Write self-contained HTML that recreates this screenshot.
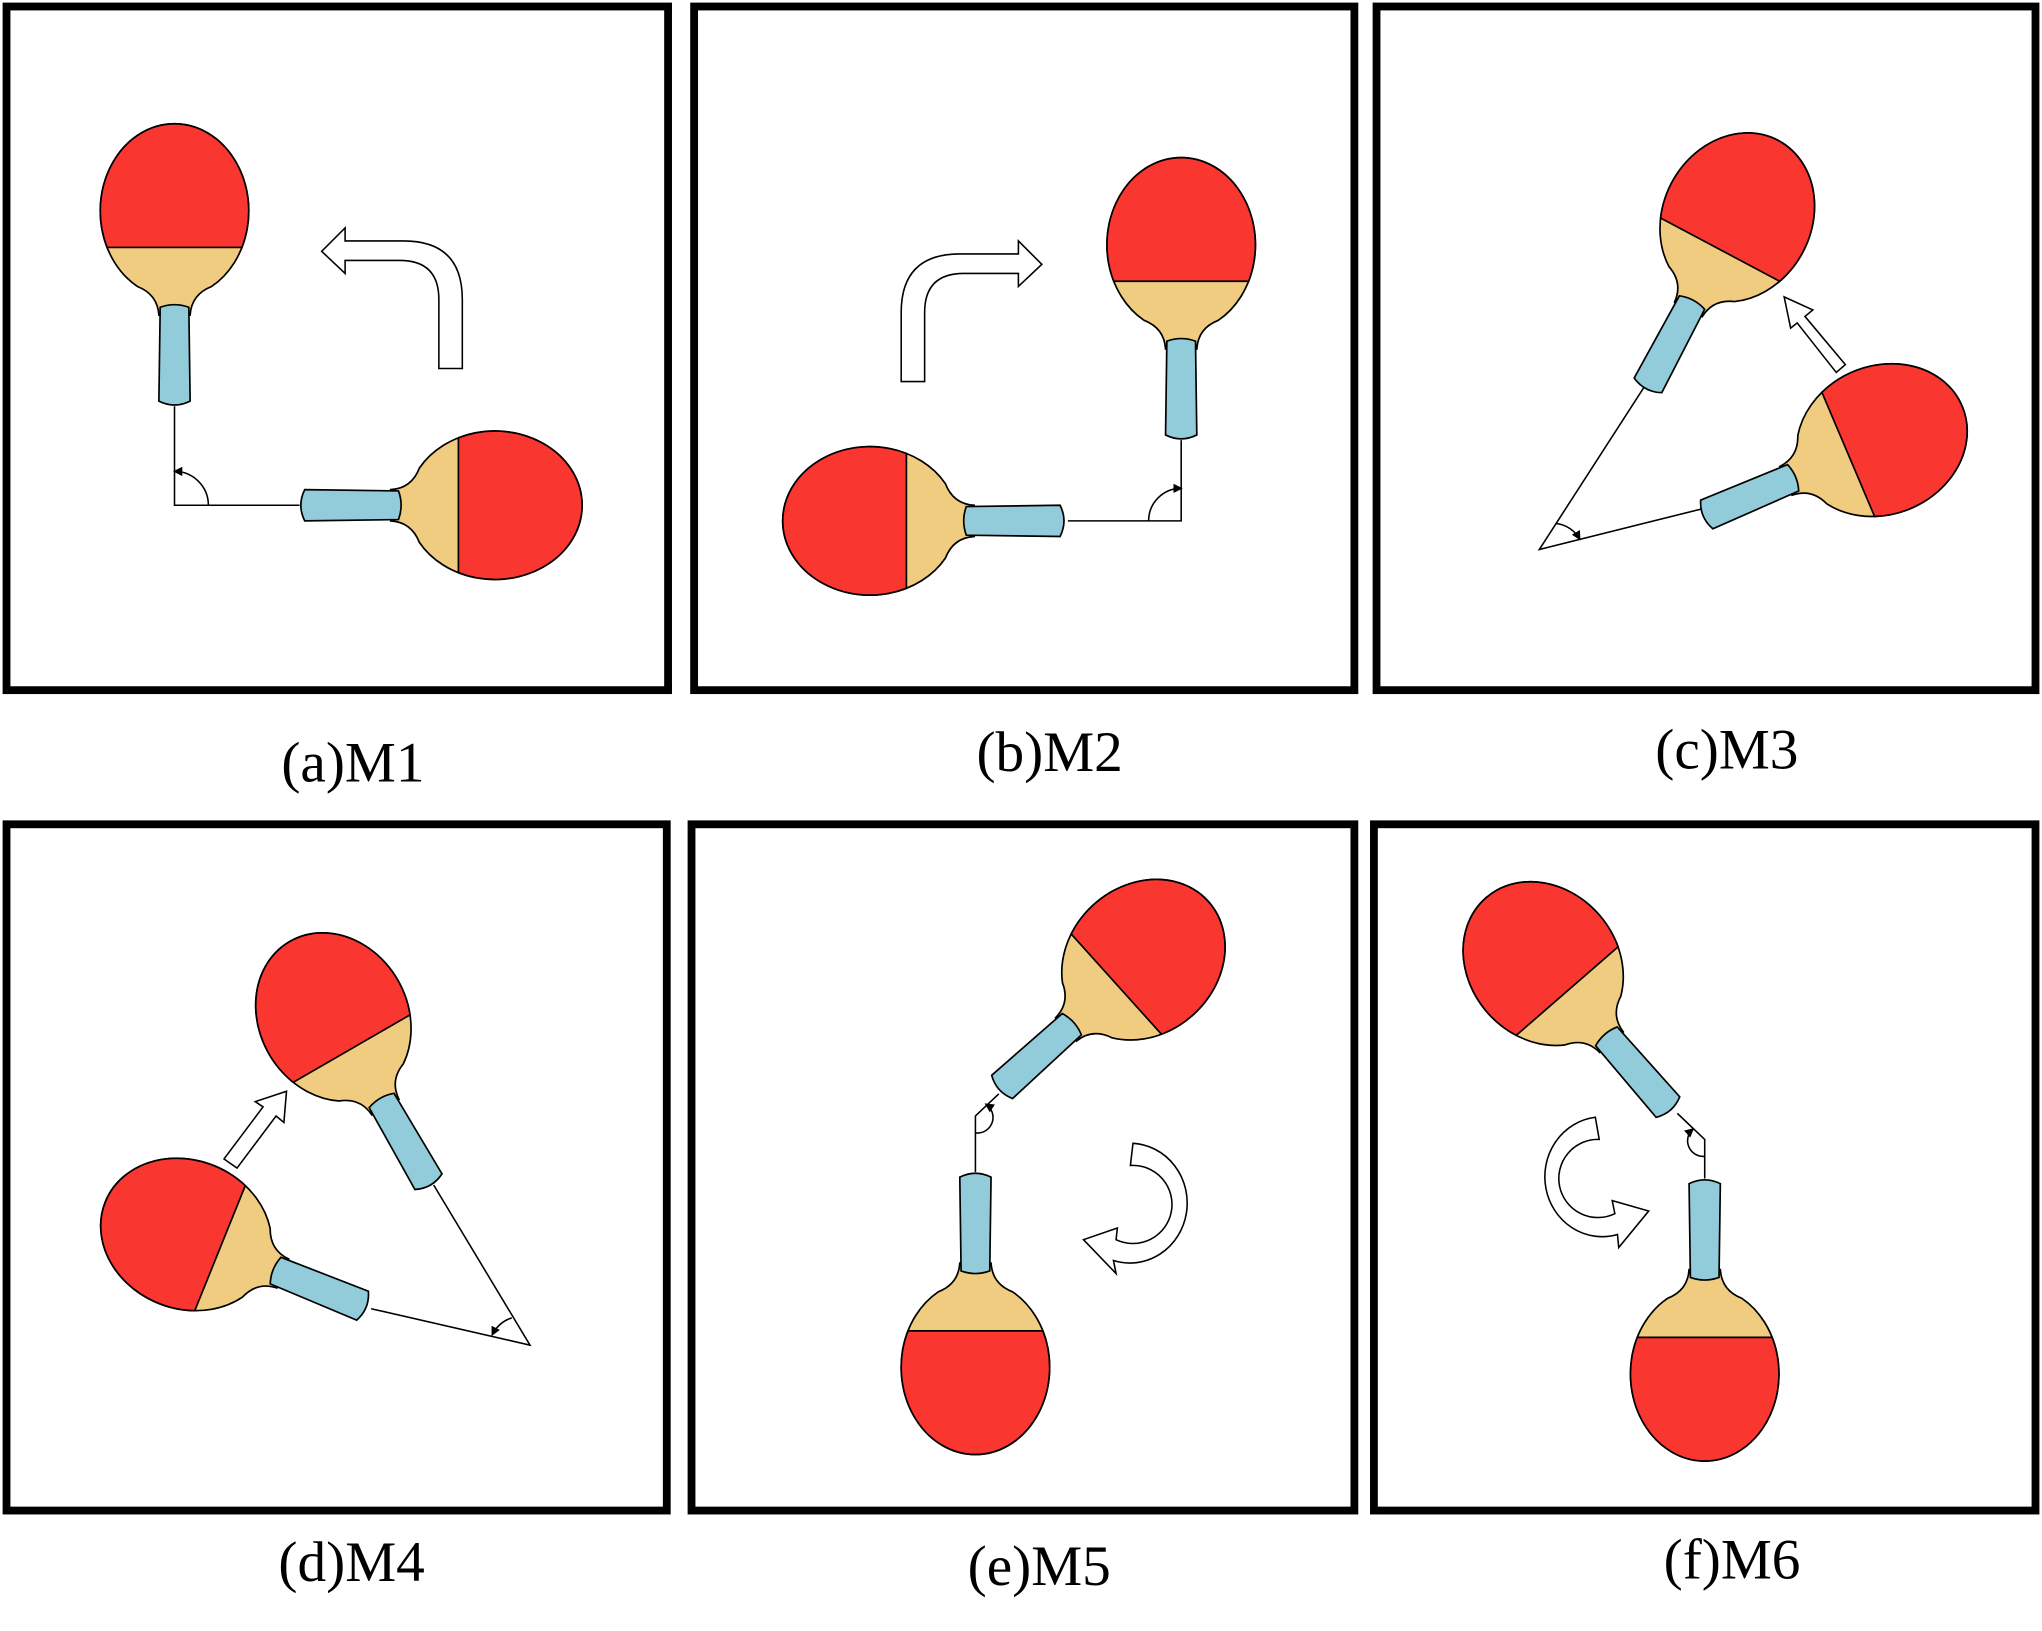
<!DOCTYPE html>
<html><head><meta charset="utf-8"><style>
html,body{margin:0;padding:0;background:#fff;}
svg{display:block;}
text{font-family:"Liberation Serif",serif;font-size:44px;fill:#000;}
</style></head><body>
<svg width="2042" height="1631" viewBox="0 0 1568 1252.5" preserveAspectRatio="none" xmlns="http://www.w3.org/2000/svg">
<defs>
<g id="paddle">
  <path d="M -28.5 58 A 57 67 0 1 1 28.5 58 Q 13 64 12 80 L -12 80 Q -13 64 -28.5 58 Z" fill="#F0CC80" stroke="#000" stroke-width="1.3"/>
  <path d="M -51.8 28 A 57 67 0 1 1 51.8 28 Z" fill="#F93730" stroke="#000" stroke-width="1.3"/>
  <path d="M -11 74 Q 0 70 11 74 L 12 146 Q 0 152 -12 146 Z" fill="#92CCDA" stroke="#000" stroke-width="1.3"/>
</g>
<marker id="ah" markerWidth="6" markerHeight="6" refX="5" refY="3" orient="auto"><path d="M0,0 L6,3 L0,6 Z" fill="#000"/></marker>
</defs>

<g fill="none" stroke="#000" stroke-width="6">
<rect x="5" y="5" width="508" height="525"/>
<rect x="533" y="5" width="507" height="525"/>
<rect x="1057" y="5" width="506" height="525"/>
<rect x="5" y="633" width="507" height="527"/>
<rect x="531" y="633" width="509" height="527"/>
<rect x="1055" y="633" width="508" height="527"/>
</g>

<g fill="none" stroke="#000" stroke-width="1.2">
<polyline points="134,312 134,388 230,388"/>
<path d="M 160 388 A 26 26 0 0 0 134 362" marker-end="url(#ah)"/>
<polyline points="907,338 907,400 820,400"/>
<path d="M 882 400 A 25 25 0 0 1 907 375" marker-end="url(#ah)"/>
<polyline points="1262,298 1182,422 1310,390"/>
<path d="M 1195 402 A 24 24 0 0 1 1213 414" marker-end="url(#ah)"/>
<polyline points="333,910 407,1033 285,1005"/>
<path d="M 393 1012 A 26 26 0 0 0 378 1025" marker-end="url(#ah)"/>
<polyline points="749,900 749,857 767,840"/>
<path d="M 749 870 A 12 12 0 0 0 757 848" marker-end="url(#ah)"/>
<polyline points="1309,905 1309,875 1288,855"/>
<path d="M 1309 888 A 12 12 0 0 1 1300 867" marker-end="url(#ah)"/>
</g>

<use href="#paddle" transform="translate(134,162)"/>
<use href="#paddle" transform="translate(380,388) rotate(90)"/>
<use href="#paddle" transform="translate(907,188)"/>
<use href="#paddle" transform="translate(668,400) rotate(-90)"/>
<use href="#paddle" transform="translate(1334,167) rotate(28)"/>
<use href="#paddle" transform="translate(1445,338) rotate(67)"/>
<use href="#paddle" transform="translate(256,781) rotate(-30)"/>
<use href="#paddle" transform="translate(143,948) rotate(-68)"/>
<use href="#paddle" transform="translate(878,737) rotate(48)"/>
<use href="#paddle" transform="translate(749,1050) rotate(180)"/>
<use href="#paddle" transform="translate(1185,740) rotate(-41)"/>
<use href="#paddle" transform="translate(1309,1055) rotate(180)"/>

<g fill="#fff" stroke="#000" stroke-width="1.2">
<path d="M 337 283 L 337 230 Q 337 200 307 200 L 265 200 L 265 210 L 247 193 L 265 175 L 265 185 L 310 185 Q 355 185 355 230 L 355 283 Z"/>
<path d="M 692 293 L 692 240 Q 692 195 737 195 L 782 195 L 782 185 L 800 203 L 782 220 L 782 210 L 740 210 Q 710 210 710 240 L 710 293 Z"/>
<path d="M 1417 280 L 1386 243 L 1392 238 L 1370 228 L 1375 252 L 1380 248 L 1410 286 Z"/>
<path d="M 172 890 L 202 850 L 196 846 L 220 838 L 218 862 L 212 857 L 182 897 Z"/>
<path d="M 870 878 A 44 46 0 1 1 855 968 L 857 978 L 832 952 L 858 943 L 857 952 A 30 30 0 1 0 868 895 Z"/>
<path d="M 1225 858 A 44 46 0 1 0 1242 948 L 1243 958 L 1266 930 L 1238 922 L 1240 932 A 30 30 0 1 1 1228 875 Z"/>
</g>

<text x="271" y="600" text-anchor="middle">(a)M1</text>
<text x="806" y="592" text-anchor="middle">(b)M2</text>
<text x="1326" y="590" text-anchor="middle">(c)M3</text>
<text x="270" y="1214" text-anchor="middle">(d)M4</text>
<text x="798" y="1217" text-anchor="middle">(e)M5</text>
<text x="1330" y="1212" text-anchor="middle">(f)M6</text>
</svg>
</body></html>
